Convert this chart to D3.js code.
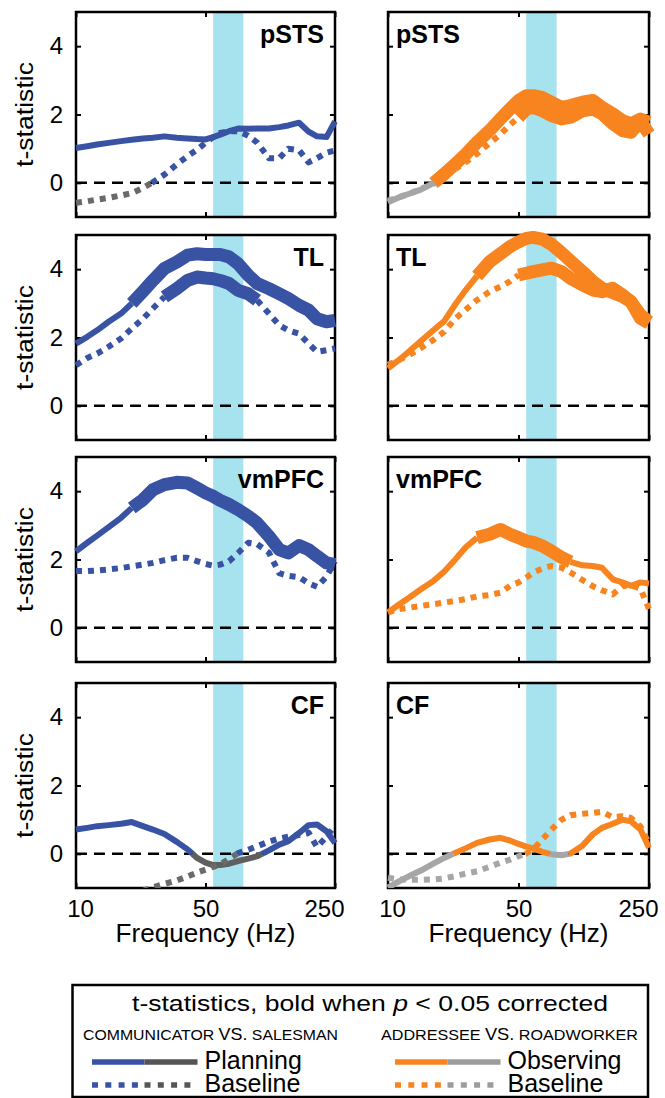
<!DOCTYPE html>
<html>
<head>
<meta charset="utf-8">
<title>t-statistics by region</title>
<script src="https://cdn.jsdelivr.net/npm/d3@7"></script>
<style>
  body { margin: 0; background: #fff; }
  svg text { font-family: "Liberation Sans", Arial, sans-serif; fill: #000; }
  .region { font-weight: bold; font-size: 25px; }
  .tick text { font-size: 24px; }
</style>
</head>
<body>
<svg id="chart" width="665" height="1098"></svg>
<script>
// frequency grid (Hz) shared by every curve
var freqs = [10, 11.5, 13, 15, 17.5, 20, 23, 26, 30, 35, 40, 45, 50, 55, 60, 67, 75, 85, 95, 110, 125, 140, 160, 180, 200, 225, 250];
var regions = ["pSTS", "TL", "vmPFC", "CF"];
var xTicks = [10, 50, 250];
var yTicks = [0, 2, 4];
var band = [55, 80];

// communicator vs. salesman : planning (solid) and baseline (dotted)
var planPSTS  = [1.02,1.07,1.12,1.17,1.22,1.26,1.30,1.32,1.36,1.32,1.30,1.28,1.27,1.34,1.41,1.51,1.59,1.58,1.59,1.59,1.63,1.68,1.76,1.50,1.36,1.34,1.80];
var planTL    = [1.82,2.02,2.21,2.46,2.70,3.00,3.35,3.67,4.02,4.21,4.41,4.45,4.43,4.43,4.43,4.36,4.16,3.82,3.58,3.43,3.28,3.14,2.94,2.80,2.55,2.46,2.50];
var planVMPFC = [2.24,2.49,2.70,2.95,3.22,3.51,3.75,4.04,4.19,4.26,4.24,4.09,3.95,3.85,3.73,3.61,3.46,3.27,3.07,2.68,2.29,2.19,2.41,2.29,2.10,1.90,1.85];
var planCF    = [0.71,0.76,0.81,0.84,0.88,0.93,0.81,0.71,0.58,0.35,0.13,-0.12,-0.26,-0.33,-0.33,-0.29,-0.21,-0.14,-0.07,0.10,0.27,0.37,0.61,0.84,0.86,0.66,0.32];
var basePlanPSTS  = [-0.58,-0.54,-0.49,-0.44,-0.37,-0.30,-0.15,0.02,0.24,0.54,0.78,0.97,1.17,1.34,1.46,1.51,1.51,1.38,1.18,0.72,0.72,1.00,0.95,0.60,0.72,0.88,0.95];
var basePlanTL    = [1.19,1.40,1.53,1.73,1.97,2.26,2.55,2.85,3.19,3.43,3.67,3.77,3.74,3.72,3.67,3.58,3.38,3.28,3.09,2.70,2.36,2.21,2.11,1.82,1.58,1.63,1.68];
var basePlanVMPFC = [1.66,1.66,1.68,1.71,1.75,1.80,1.85,1.90,1.98,2.05,2.05,1.95,1.87,1.82,1.85,1.95,2.19,2.49,2.45,2.20,1.60,1.52,1.48,1.30,1.20,1.50,1.95];
var basePlanCF    = [null,null,null,null,null,null,-1.08,-0.98,-0.88,-0.78,-0.66,-0.55,-0.46,-0.38,-0.31,-0.15,0.02,0.12,0.22,0.36,0.45,0.50,0.55,0.62,0.20,0.50,0.82];

// addressee vs. roadworker : observing (solid) and baseline (dotted)
var obsPSTS  = [-0.57,-0.42,-0.32,-0.20,-0.01,0.26,0.56,0.83,1.19,1.53,1.87,2.16,2.41,2.55,2.55,2.50,2.36,2.21,2.26,2.36,2.41,2.21,2.02,1.82,1.73,1.87,1.77];
var obsTL    = [1.10,1.35,1.60,1.90,2.21,2.48,2.98,3.38,3.80,4.22,4.45,4.66,4.80,4.90,4.93,4.88,4.73,4.48,4.24,3.93,3.64,3.44,3.31,3.20,3.05,2.66,2.46];
var obsVMPFC = [0.45,0.69,0.89,1.13,1.37,1.65,2.01,2.35,2.64,2.74,2.88,2.74,2.64,2.54,2.50,2.40,2.25,2.06,1.93,1.83,1.81,1.76,1.42,1.33,1.23,1.33,1.30];
var obsCF    = [-0.99,-0.80,-0.65,-0.49,-0.29,-0.12,0.03,0.16,0.32,0.42,0.47,0.39,0.29,0.21,0.16,0.06,-0.01,-0.04,0.01,0.24,0.57,0.76,0.88,1.00,0.95,0.71,0.18];
var baseObsPSTS  = [-0.52,-0.42,-0.32,-0.18,-0.03,0.17,0.41,0.60,0.85,1.16,1.42,1.70,1.92,2.16,2.21,2.11,1.97,1.87,1.92,2.11,2.16,2.02,1.73,1.53,1.48,1.82,1.43];
var baseObsTL    = [1.20,1.35,1.49,1.69,1.93,2.17,2.56,2.81,3.10,3.34,3.49,3.64,3.83,3.88,3.93,3.98,4.03,3.93,3.73,3.54,3.39,3.34,3.44,3.25,3.05,2.56,2.42];
var baseObsVMPFC = [0.45,0.55,0.59,0.64,0.69,0.74,0.79,0.84,0.92,0.96,1.03,1.23,1.33,1.47,1.62,1.73,1.81,1.76,1.62,1.40,1.22,1.10,0.98,1.22,1.25,1.15,0.55];
var baseObsCF    = [-0.70,-0.75,-0.76,-0.76,-0.75,-0.72,-0.65,-0.58,-0.51,-0.38,-0.26,-0.17,-0.07,0.01,0.13,0.42,0.71,1.00,1.13,1.17,1.20,1.23,1.07,1.10,1.05,0.80,0.30];

// stretches where p < 0.05 corrected (drawn bold), [from Hz, to Hz], one per region
var planBold     = [null, [20, 250], [20, 250], null];
var basePlanBold = [null, [30, 95], null, null];
var obsBold      = [[17.5, 250], [30, 250], [30, 95], null];
var baseObsBold  = [[50, 250], [50, 250], null, null];

var legendLabels = ["Planning", "Baseline", "Observing", "Baseline"];

var planVals = [planPSTS, planTL, planVMPFC, planCF];
var basePlanVals = [basePlanPSTS, basePlanTL, basePlanVMPFC, basePlanCF];
var obsVals = [obsPSTS, obsTL, obsVMPFC, obsCF];
var baseObsVals = [baseObsPSTS, baseObsTL, baseObsVMPFC, baseObsCF];

var blue = "#3953a4", orange = "#f7841f", darkGray = "#5f5f5f", lightGray = "#a6a6a6", cyan = "#a6e3ee";

var svg = d3.select("#chart");
var cols = [{x0: 76, x1: 335}, {x0: 388, x1: 649}];
var panelTop = [12, 235, 457, 683];
var panelH = 205;

// split a curve into runs of equal style (bold / below zero)
function buildPieces(vals, bold) {
  var pieces = [], cur = null;
  for (var i = 0; i < freqs.length - 1; i++) {
    var v0 = vals[i], v1 = vals[i + 1];
    if (v0 == null || v1 == null) { cur = null; continue; }
    var b = !!bold && freqs[i] >= bold[0] && freqs[i + 1] <= bold[1];
    var p0 = [freqs[i], v0], p1 = [freqs[i + 1], v1];
    var segs = [[p0, p1]];
    if (v0 * v1 < 0) {
      var t = v0 / (v0 - v1);
      var fz = Math.exp(Math.log(p0[0]) + t * (Math.log(p1[0]) - Math.log(p0[0])));
      segs = [[p0, [fz, 0]], [[fz, 0], p1]];
    }
    segs.forEach(function(s) {
      var neg = s[0][1] + s[1][1] < 0;
      if (cur && cur.bold === b && cur.neg === neg) cur.pts.push(s[1]);
      else { cur = {bold: b, neg: neg, pts: [s[0], s[1]]}; pieces.push(cur); }
    });
  }
  return pieces;
}

function drawCurve(g, line, vals, bold, colour, gray, dotted) {
  buildPieces(vals, bold).forEach(function(p) {
    g.append("path")
      .attr("d", line(p.pts))
      .attr("fill", "none")
      .attr("stroke", p.neg ? gray : colour)
      .attr("stroke-width", p.bold ? 13 : 6)
      .attr("stroke-dasharray", dotted && !p.bold ? "6,6" : null)
      .attr("stroke-linejoin", "round");
  });
}

function panel(r, c) {
  var col = cols[c], top = panelTop[r], w = col.x1 - col.x0;
  var isLeft = c === 0, isBottom = r === regions.length - 1;
  var x = d3.scaleLog().domain([10, 250]).range([0, w]);
  var y = d3.scaleLinear().domain([-1, 5]).range([panelH, 0]);
  var g = svg.append("g").attr("transform", "translate(" + col.x0 + "," + top + ")");

  g.append("rect")
    .attr("x", x(band[0])).attr("width", x(band[1]) - x(band[0]))
    .attr("y", 0).attr("height", panelH)
    .attr("fill", cyan);

  var yl = g.append("g").call(d3.axisLeft(y).tickValues(yTicks).tickSizeInner(-5).tickSizeOuter(0)
    .tickPadding(13).tickFormat(isLeft ? d3.format("d") : ""));
  var yr = g.append("g").attr("transform", "translate(" + w + ",0)")
    .call(d3.axisRight(y).tickValues(yTicks).tickSizeInner(-5).tickSizeOuter(0).tickFormat(""));
  var xb = g.append("g").attr("transform", "translate(0," + panelH + ")")
    .call(d3.axisBottom(x).tickValues(xTicks).tickSizeInner(-5).tickSizeOuter(0)
      .tickPadding(12).tickFormat(isBottom ? d3.format("d") : ""));
  var xt = g.append("g")
    .call(d3.axisTop(x).tickValues(xTicks).tickSizeInner(-5).tickSizeOuter(0).tickFormat(""));
  [yl, yr, xb, xt].forEach(function(a) {
    a.select(".domain").remove();
    a.selectAll("line").attr("stroke-width", 2);
  });
  xb.selectAll("text")
    .attr("dy", "0.72em")
    .attr("dx", function(d) { return d === 10 ? 4 : d === 250 ? -11 : 0; });

  g.append("rect")
    .attr("width", w).attr("height", panelH)
    .attr("fill", "none").attr("stroke", "#000").attr("stroke-width", 2.5);

  g.append("line")
    .attr("x1", 0).attr("x2", w).attr("y1", y(0)).attr("y2", y(0))
    .attr("stroke", "#000").attr("stroke-width", 2.5).attr("stroke-dasharray", "11,7");

  var clipId = "clip" + r + c;
  g.append("clipPath").attr("id", clipId)
    .append("rect").attr("x", -12).attr("y", -20).attr("width", w + 24).attr("height", panelH + 20);
  var curves = g.append("g").attr("clip-path", "url(#" + clipId + ")");

  var line = d3.line().x(function(d) { return x(d[0]); }).y(function(d) { return y(d[1]); });
  if (isLeft) {
    drawCurve(curves, line, planVals[r], planBold[r], blue, darkGray, false);
    drawCurve(curves, line, basePlanVals[r], basePlanBold[r], blue, "#6a6a6a", true);
  } else {
    drawCurve(curves, line, obsVals[r], obsBold[r], orange, lightGray, false);
    drawCurve(curves, line, baseObsVals[r], baseObsBold[r], orange, lightGray, true);
  }

  g.append("text").attr("class", "region")
    .attr("x", isLeft ? w - 11 : 8).attr("y", 31)
    .attr("text-anchor", isLeft ? "end" : "start")
    .text(regions[r]);

  if (isLeft) {
    svg.append("text")
      .attr("transform", "translate(33," + (top + panelH / 2) + ") rotate(-90)")
      .attr("text-anchor", "middle")
      .attr("font-size", 23)
      .attr("textLength", 105).attr("lengthAdjust", "spacingAndGlyphs")
      .text("t-statistic");
  }
  if (isBottom) {
    svg.append("text")
      .attr("x", col.x0 + w / 2).attr("y", 942)
      .attr("text-anchor", "middle")
      .attr("font-size", 25)
      .attr("textLength", 180).attr("lengthAdjust", "spacingAndGlyphs")
      .text("Frequency (Hz)");
  }
}

for (var r = 0; r < regions.length; r++) {
  panel(r, 0);
  panel(r, 1);
}

// legend
var lg = svg.append("g");
lg.append("rect")
  .attr("x", 72.5).attr("y", 985).attr("width", 575.5).attr("height", 112)
  .attr("fill", "none").attr("stroke", "#000").attr("stroke-width", 2.5);

var title = lg.append("text").attr("x", 132).attr("y", 1011).attr("font-size", 22)
  .attr("textLength", 476).attr("lengthAdjust", "spacingAndGlyphs");
title.append("tspan").text("t-statistics, bold when ");
title.append("tspan").attr("font-style", "italic").text("p");
title.append("tspan").text(" < 0.05 corrected");

function subhead(x0, len, a, b) {
  var t = lg.append("text").attr("x", x0).attr("y", 1040).attr("font-size", 15)
    .attr("textLength", len).attr("lengthAdjust", "spacingAndGlyphs");
  t.append("tspan").text(a + " ");
  t.append("tspan").attr("font-size", 17).text("VS.");
  t.append("tspan").text(" " + b);
}
subhead(83, 255, "COMMUNICATOR", "SALESMAN");
subhead(381, 257, "ADDRESSEE", "ROADWORKER");

function legendPair(x0, colour, gray, labelA, labelB) {
  var mid = x0 + 52.5, end = x0 + 105.5;
  [[1062, null, labelA, 1069], [1085, "6,7.3", labelB, 1092]].forEach(function(row) {
    lg.append("line").attr("x1", x0).attr("x2", mid).attr("y1", row[0]).attr("y2", row[0])
      .attr("stroke", colour).attr("stroke-width", 5.5).attr("stroke-dasharray", row[1]);
    lg.append("line").attr("x1", mid).attr("x2", end).attr("y1", row[0]).attr("y2", row[0])
      .attr("stroke", gray).attr("stroke-width", 5.5).attr("stroke-dasharray", row[1]);
    lg.append("text").attr("x", end + 7).attr("y", row[3]).attr("font-size", 25).text(row[2]);
  });
}
legendPair(92, blue, "#555", legendLabels[0], legendLabels[1]);
legendPair(395, orange, "#9c9c9c", legendLabels[2], legendLabels[3]);
</script>
</body>
</html>
